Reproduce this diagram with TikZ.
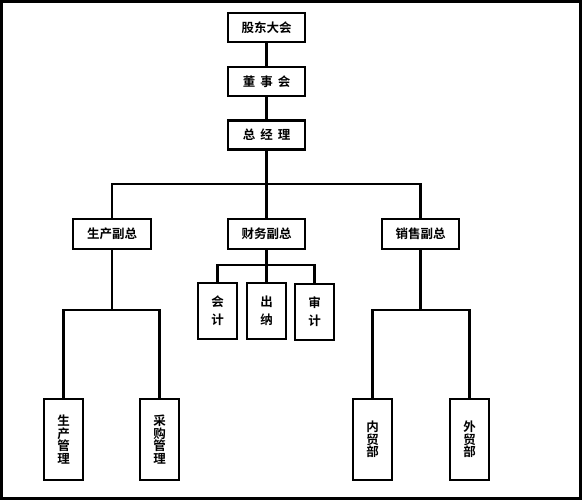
\documentclass[tikz,border=0pt]{standalone}
\usepackage{fontspec}
\setmainfont{Noto Sans CJK SC}[BoldFont={Noto Sans CJK SC Bold}]
\begin{document}
\begin{tikzpicture}[x=1pt,y=-1pt,
  box/.style={draw,line width=2.3pt,inner sep=0pt,font=\bfseries\fontsize{12.5}{12.5}\selectfont},
  hbox/.style={box,minimum width=77pt,minimum height=29pt},
  sbox/.style={box,minimum width=39pt,minimum height=56pt,align=center,font=\bfseries\fontsize{12.5}{18}\selectfont},
  tbox/.style={box,minimum width=39pt,minimum height=81pt,align=center,font=\bfseries\fontsize{12.5}{12.5}\selectfont},
  conn/.style={line width=2.2pt}]
\useasboundingbox (0,0) rectangle (582,500);
\draw[line width=3pt] (1.5,1.5) rectangle (580.5,498.5);
\node[hbox] (gd) at (266.5,27.5) {股东大会};
\node[hbox] (ds) at (266.5,81.5) {董\hspace{5pt}事\hspace{5pt}会};
\node[hbox] (zjl) at (266.5,135) {总\hspace{5pt}经\hspace{5pt}理};
\node[hbox,minimum height=30pt,minimum width=78pt] (sc) at (112,234) {生产副总};
\node[hbox,minimum height=30pt] (cw) at (266.5,234) {财务副总};
\node[hbox,minimum height=30pt] (xs) at (420.5,234) {销售副总};
\node[sbox] (kj) at (217.5,311) {会\\计};
\node[sbox] (cn) at (266.5,311) {出\\纳};
\node[sbox] (sj) at (314.5,312) {审\\计};
\node[tbox] (scgl) at (63.5,439.5) {生\\产\\管\\理};
\node[tbox] (cggl) at (159.5,439.5) {采\\购\\管\\理};
\node[tbox] (nm) at (372.5,439.5) {内\\贸\\部};
\node[tbox] (wm) at (469.5,439.5) {外\\贸\\部};
\coordinate (bus1) at (266.5,184);
\coordinate (bus2) at (266.5,265);
\coordinate (bus3) at (112,310);
\coordinate (bus4) at (420.5,310);
\draw[conn] (gd.south) -- (ds.north);
\draw[conn] (ds.south) -- (zjl.north);
\draw[conn] (zjl.south) -- (cw.north);
\draw[conn] (sc.north) |- (bus1) -| (xs.north);
\draw[conn] (cw.south) -- (cn.north);
\draw[conn] (kj.north) |- (bus2) -| (sj.north);
\draw[conn] (sc.south) -- (bus3);
\draw[conn] (scgl.north) |- (bus3) -| (cggl.north);
\draw[conn] (xs.south) -- (bus4);
\draw[conn] (nm.north) |- (bus4) -| (wm.north);
\end{tikzpicture}
\end{document}
